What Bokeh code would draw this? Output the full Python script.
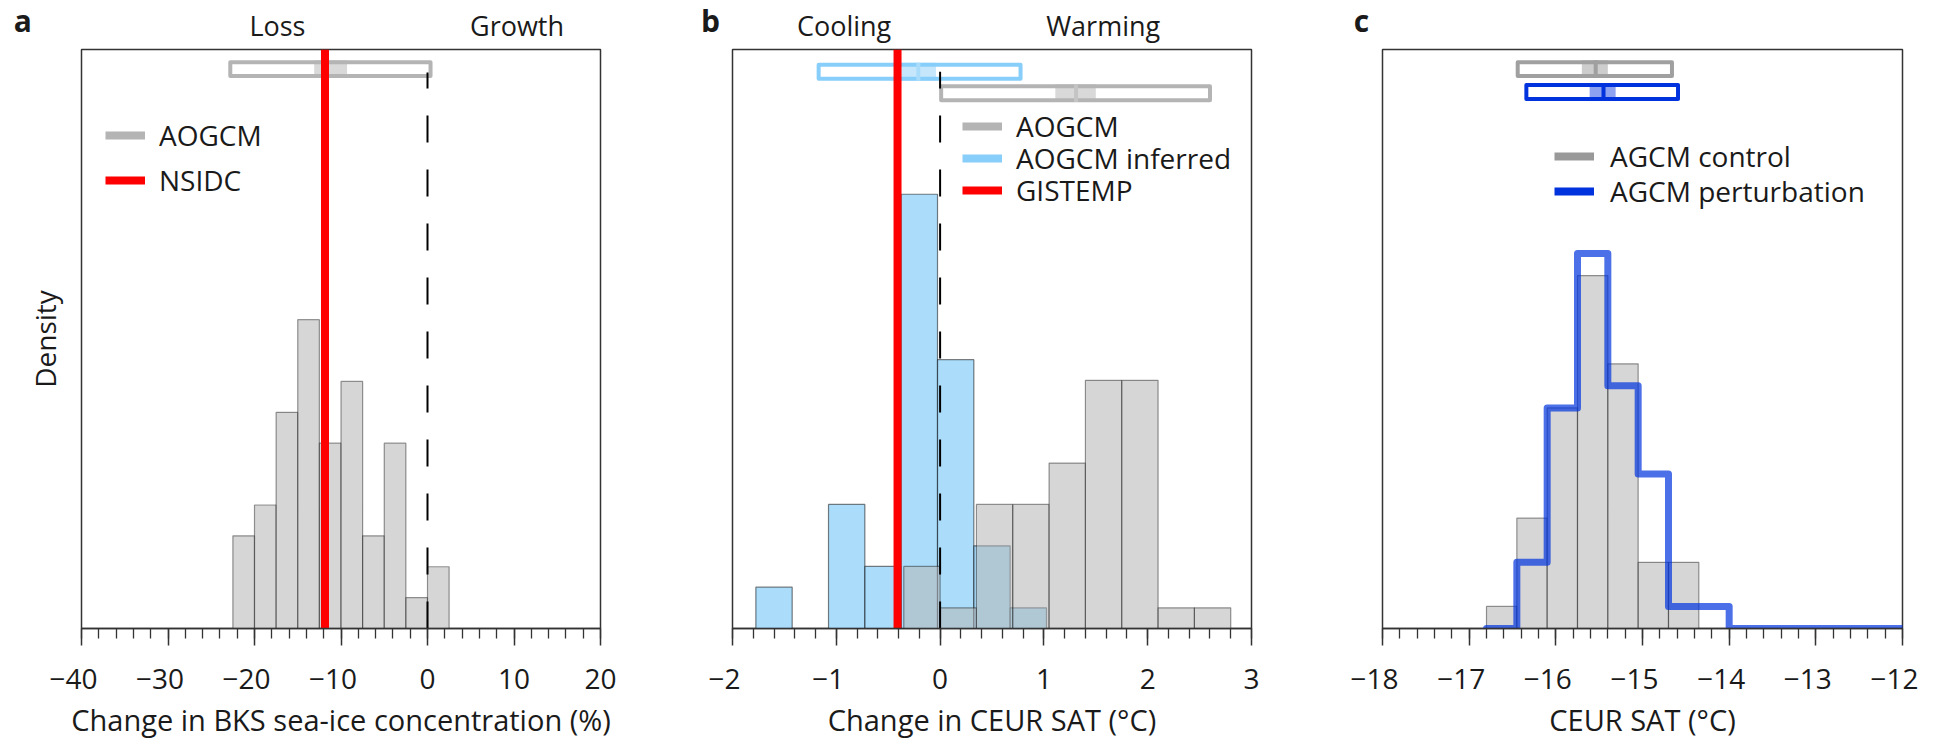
import numpy as np
from bokeh.plotting import figure
from bokeh.models import (ColumnDataSource, FixedTicker, Label, Legend, LegendItem, Range1d)
from bokeh.layouts import row, column
from bokeh.embed import file_html
from bokeh.resources import INLINE

FONT = "Open Sans"
MINUS = "\u2212"
FIG_SPACE = "\u2007"   # balances the hanging minus so the digits stay centred on the tick

# ---------------- data ----------------
N_MEMBERS = 50

# panel a : change in BKS sea-ice concentration (%)
a_edges = [-22.5, -20.0, -17.5, -15.0, -12.5, -10.0, -7.5, -5.0, -2.5, 0.0, 2.5]
a_counts = [3, 4, 7, 10, 6, 8, 3, 6, 1, 2]
a_obs = -11.85                       # NSIDC
a_box = [-22.8, 0.35, -13.1, -9.3, -11.85]   # lo, hi, ci_lo, ci_hi, median
a_ticks = [-40, -30, -20, -10, 0, 10, 20]
a_minor = [float(v) for v in range(-40, 21, 2)]
a_side_labels = ["Loss", "Growth"]
a_side_pos = [-17.35, 10.35]

# panel b : change in CEUR SAT (degC)
b_gray_edges = [-0.35, 0.0, 0.35, 0.7, 1.05, 1.4, 1.75, 2.1, 2.45, 2.8]
b_gray_counts = [3, 1, 6, 6, 8, 12, 12, 1, 1]
b_blue_edges = [-1.775, -1.425, -1.075, -0.725, -0.375, -0.025, 0.325, 0.675, 1.025]
b_blue_counts = [2, 0, 6, 3, 21, 13, 4, 1]
b_obs = -0.41                        # GISTEMP
b_box_blue = [-1.17, 0.775, -0.375, -0.04, -0.21]
b_box_gray = [0.01, 2.60, 1.11, 1.50, 1.31]
b_ticks = [-2, -1, 0, 1, 2, 3]
b_minor = [round(-2 + 0.2 * i, 1) for i in range(26)]
b_side_labels = ["Cooling", "Warming"]
b_side_pos = [-0.925, 1.571]

# panel c : CEUR SAT (degC)
c_ctrl_edges = [-16.8, -16.45, -16.1, -15.75, -15.4, -15.05, -14.7, -14.35]
c_ctrl_counts = [1, 5, 10, 16, 12, 3, 3]
c_pert_edges = [-16.8, -16.45, -16.1, -15.75, -15.4, -15.05, -14.7, -14.35, -14.0, -12.0]
c_pert_counts = [0, 3, 10, 17, 11, 7, 1, 1, 0]
c_box_ctrl = [-16.44, -14.66, -15.70, -15.40, -15.54]
c_box_pert = [-16.34, -14.59, -15.61, -15.31, -15.45]
c_ticks = [-18, -17, -16, -15, -14, -13, -12]
c_minor = [round(-18 + 0.2 * i, 1) for i in range(31)]

ZERO_REF = 0.0

# ---------------- styling ----------------
PAGE_H = 739
HEAD_H = 47
MAIN_TOP = 2
FRAME_H = 581
MAIN_BOTTOM = 69
MAIN_H = MAIN_TOP + FRAME_H + MAIN_BOTTOM
FOOT_H = PAGE_H - HEAD_H - MAIN_H
TXT = "#1a1a1a"
GRAY_FILL = "#b4b4b4"
BLUE_FILL = "#87cefa"
RED = "#ff0000"
PERT_BLUE = "#0033dd"


def density(edges, counts):
    e = np.asarray(edges, float)
    c = np.asarray(counts, float)
    return e, c / (N_MEMBERS * np.diff(e))


def hist_source(edges, counts):
    e, d = density(edges, counts)
    return ColumnDataSource(dict(left=e[:-1], right=e[1:], top=d))


def fmt(t):
    return (MINUS + str(abs(t)) + FIG_SPACE) if t < 0 else str(t)


def text_mid(baseline_y, size_px):
    # vertical centre of the text box for a given baseline (Open Sans metrics)
    return baseline_y - 0.388 * size_px


def make_fig(width, bl, br, xr, y_end, ticks, minor, with_density=False):
    p = figure(width=width, height=MAIN_H, x_range=Range1d(*xr), y_range=Range1d(0, y_end),
               output_backend="svg", toolbar_location=None,
               y_axis_location="left" if with_density else None,
               min_border_left=bl, min_border_right=br, min_border_top=MAIN_TOP,
               min_border_bottom=MAIN_BOTTOM)
    p.grid.visible = False
    p.outline_line_color = "#333333"
    p.outline_line_width = 1.5
    p.background_fill_color = "white"
    p.border_fill_color = "white"
    ax = p.xaxis[0]
    ax.ticker = FixedTicker(ticks=ticks, minor_ticks=minor)
    ax.major_label_overrides = {t: fmt(t) for t in ticks}
    ax.axis_line_color = "#333333"
    ax.axis_line_width = 1.5
    ax.major_tick_line_color = "#333333"
    ax.major_tick_line_width = 1.5
    ax.minor_tick_line_color = "#333333"
    ax.minor_tick_line_width = 1.3
    ax.major_tick_in = 0
    ax.major_tick_out = 17
    ax.minor_tick_in = 0
    ax.minor_tick_out = 10
    ax.major_label_standoff = 13
    ax.major_label_text_font = FONT
    ax.major_label_text_font_size = "28px"
    ax.major_label_text_color = TXT
    if with_density:
        yax = p.yaxis[0]
        yax.ticker = FixedTicker(ticks=[])
        yax.axis_line_color = None
        yax.major_tick_out = 0
        yax.major_tick_in = 0
        yax.minor_tick_out = 0
        yax.minor_tick_in = 0
        yax.axis_label = "Density"
        yax.axis_label_text_font = FONT
        yax.axis_label_text_font_size = "28px"
        yax.axis_label_text_font_style = "normal"
        yax.axis_label_text_color = TXT
        yax.axis_label_standoff = 18
    return p


def make_strip(width, height, main):
    bl, br = main.min_border_left, main.min_border_right
    fw = width - bl - br
    x0, x1 = main.x_range.start, main.x_range.end
    k = (x1 - x0) / fw
    s = figure(width=width, height=height, x_range=Range1d(x0 - bl * k, x1 + br * k),
               y_range=Range1d(0, height), output_backend="svg", toolbar_location=None,
               x_axis_location=None, y_axis_location=None, min_border=0,
               min_border_left=0, min_border_right=0, min_border_top=0, min_border_bottom=0)
    s.grid.visible = False
    s.outline_line_color = None
    s.background_fill_color = "white"
    s.border_fill_color = "white"
    return s


def y_at(p, off_px):
    ye = p.y_range.end
    return ye * (1 - off_px / FRAME_H)


def draw_box(p, box, off_px, outline, shade, median_color):
    lo, hi, clo, chi, med = box
    u = p.y_range.end / FRAME_H
    yc = y_at(p, off_px)
    hh = 7 * u
    p.quad(left=[clo], right=[chi], bottom=[yc - hh - 2 * u], top=[yc + hh + 2 * u],
           fill_color=shade, line_color=None)
    p.quad(left=[lo], right=[hi], bottom=[yc - hh], top=[yc + hh], fill_color=None,
           line_color=outline, line_width=4, line_join="round")
    p.segment(x0=[med], x1=[med], y0=[yc - hh - 2 * u], y1=[yc + hh + 2 * u],
              line_color=median_color, line_width=4)


def add_text(p, text, x, y, size="27px", x_units="screen", align="center", style="normal"):
    p.add_layout(Label(x=x, y=y, x_units=x_units, y_units="screen", text=text,
                       text_font=FONT, text_font_size=size, text_font_style=style,
                       text_color=TXT, text_align=align, text_baseline="middle"))


def add_legend(p, entries, vx, row_offsets, standoff):
    # one single-entry legend per row so that rows sit exactly where they do in the figure
    for (label, color), off in zip(entries, row_offsets):
        r = p.line(x=[np.nan, np.nan], y=[np.nan, np.nan], line_color=color, line_width=8)
        leg = Legend(items=[LegendItem(label=label, renderers=[r])],
                     location=(vx, FRAME_H - off - 20), padding=0, margin=0, spacing=0,
                     border_line_alpha=0, background_fill_alpha=0, glyph_width=40,
                     glyph_height=40, label_height=40, label_standoff=standoff,
                     label_text_font=FONT, label_text_font_size="28px", label_text_color=TXT)
        p.add_layout(leg)


def header(width, main, letter, letter_x, side_labels, side_pos):
    h = make_strip(width, HEAD_H, main)
    add_text(h, letter, letter_x, HEAD_H - text_mid(32, 30), size="30px", align="left",
             style="bold")
    for lab, pos in zip(side_labels, side_pos):
        add_text(h, lab, pos, HEAD_H - text_mid(35, 27), x_units="data")
    return h


def footer(width, main, xlabel):
    f = make_strip(width, FOOT_H, main)
    mid = 0.5 * (main.x_range.start + main.x_range.end)
    add_text(f, xlabel, mid, PAGE_H - text_mid(730.5, 29), size="29px", x_units="data")
    return f


# ---------------- panel a ----------------
pa = make_fig(660, 81, 60, (-40, 20), 0.15, a_ticks, a_minor, with_density=True)
pa.quad(left="left", right="right", bottom=0, top="top", source=hist_source(a_edges, a_counts),
        fill_color=GRAY_FILL, fill_alpha=0.55, line_color="black", line_alpha=0.4, line_width=1.2)
draw_box(pa, a_box, 19.7, GRAY_FILL, "#d9d9d9", "#c4c4c4")
pa.segment(x0=[ZERO_REF], x1=[ZERO_REF], y0=[0], y1=[y_at(pa, 23)], line_color="black",
           line_width=2, line_dash="27 27")
pa.segment(x0=[a_obs], x1=[a_obs], y0=[0], y1=[0.15], line_color=RED, line_width=8)
add_legend(pa, [("AOGCM", GRAY_FILL), ("NSIDC", RED)], 24, [88, 133], 14)

# ---------------- panel b ----------------
pb = make_fig(650, 72, 59, (-2, 3), 1.6, b_ticks, b_minor)
pb.quad(left="left", right="right", bottom=0, top="top",
        source=hist_source(b_blue_edges, b_blue_counts),
        fill_color=BLUE_FILL, fill_alpha=0.7, line_color="black", line_alpha=0.5, line_width=1.2)
pb.quad(left="left", right="right", bottom=0, top="top",
        source=hist_source(b_gray_edges, b_gray_counts),
        fill_color=GRAY_FILL, fill_alpha=0.55, line_color="black", line_alpha=0.4, line_width=1.2)
draw_box(pb, b_box_blue, 22.3, BLUE_FILL, "#c6e7fb", "#a9dcfb")
draw_box(pb, b_box_gray, 43.8, GRAY_FILL, "#d9d9d9", "#c4c4c4")
pb.segment(x0=[ZERO_REF], x1=[ZERO_REF], y0=[0], y1=[y_at(pb, 22.3)], line_color="black",
           line_width=2, line_dash="27 27")
pb.segment(x0=[b_obs], x1=[b_obs], y0=[0], y1=[1.6], line_color=RED, line_width=8)
add_legend(pb, [("AOGCM", GRAY_FILL), ("AOGCM inferred", BLUE_FILL), ("GISTEMP", RED)],
           230, [79, 111, 143], 14)

# ---------------- panel c ----------------
pc = make_fig(628, 72, 36, (-18, -12), 1.5, c_ticks, c_minor)
pc.quad(left="left", right="right", bottom=0, top="top",
        source=hist_source(c_ctrl_edges, c_ctrl_counts),
        fill_color=GRAY_FILL, fill_alpha=0.55, line_color="black", line_alpha=0.4, line_width=1.2)
pe, pdens = density(c_pert_edges, c_pert_counts)
step_x = np.repeat(pe, 2)[1:-1]
step_y = np.repeat(pdens, 2)
pc.line(x=step_x, y=step_y, line_color=PERT_BLUE, line_alpha=0.7, line_width=7,
        line_join="round", line_cap="round")
draw_box(pc, c_box_ctrl, 19.7, "#a0a0a0", "#cdcdcd", "#a0a0a0")
draw_box(pc, c_box_pert, 42.7, PERT_BLUE, "#8da2f0", PERT_BLUE)
add_legend(pc, [("AGCM control", "#999999"), ("AGCM perturbation", PERT_BLUE)],
           172, [109, 144], 16)

# ---------------- header / footer strips ----------------
ha = header(660, pa, "a", 13.3, a_side_labels, a_side_pos)
hb = header(650, pb, "b", 40.4, b_side_labels, b_side_pos)
hc = header(628, pc, "c", 43.3, [], [])
fa = footer(660, pa, "Change in BKS sea-ice concentration (%)")
fb = footer(650, pb, "Change in CEUR SAT (\u00b0C)")
fc = footer(628, pc, "CEUR SAT (\u00b0C)")

layout = column(row(ha, hb, hc, spacing=0), row(pa, pb, pc, spacing=0),
                row(fa, fb, fc, spacing=0), spacing=0)
open("out.html", "w").write(file_html(layout, INLINE))
